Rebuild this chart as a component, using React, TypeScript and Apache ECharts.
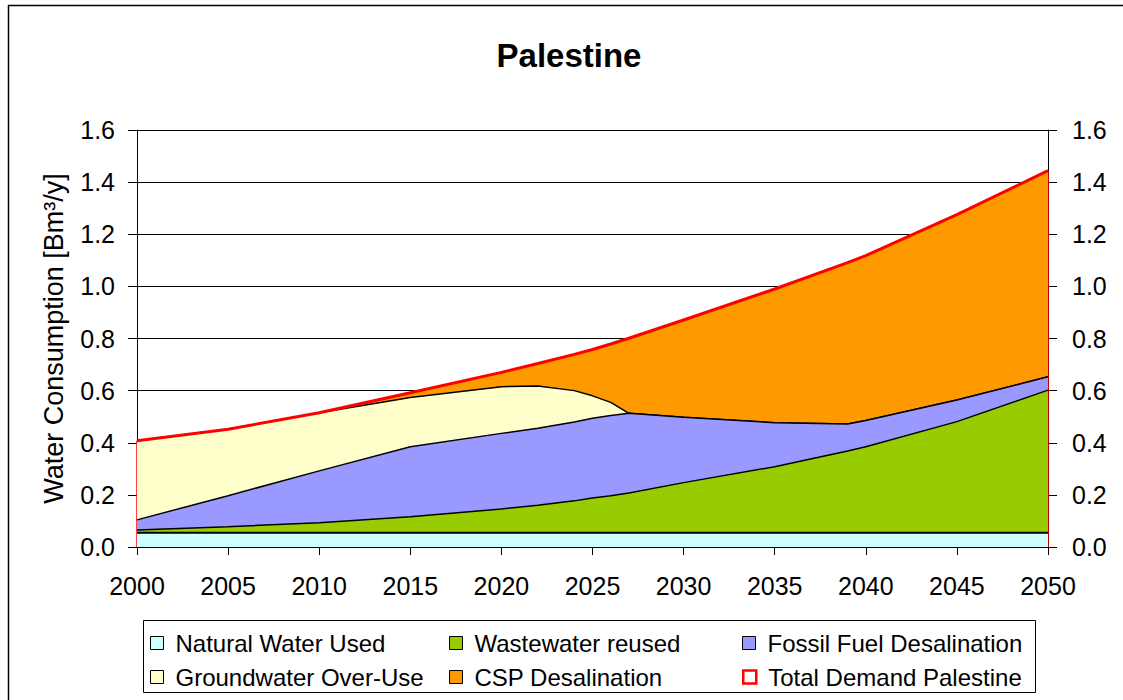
import React, { useEffect, useRef } from "react";
import * as echarts from "echarts";

// Sample years (x values)
const years = [2000, 2005, 2010, 2015, 2020, 2022, 2024, 2025, 2026, 2027, 2030, 2035, 2039, 2040, 2045, 2050];
// Stacked components [Bm³/y]
const naturalWater = [0.055, 0.055, 0.055, 0.055, 0.055, 0.055, 0.055, 0.055, 0.055, 0.055, 0.055, 0.055, 0.055, 0.055, 0.055, 0.055];
const wastewater = [0.010, 0.023, 0.038, 0.061, 0.091, 0.105, 0.122, 0.133, 0.142, 0.152, 0.192, 0.253, 0.313, 0.330, 0.426, 0.547];
const fossilDesal = [0.039, 0.119, 0.199, 0.269, 0.290, 0.296, 0.303, 0.306, 0.308, 0.306, 0.251, 0.169, 0.104, 0.100, 0.083, 0.051];
const groundwater = [0.304, 0.255, 0.223, 0.189, 0.179, 0.162, 0.120, 0.086, 0.050, 0, 0, 0, 0, 0, 0, 0];
const cspDesal = [0, 0, 0, 0.018, 0.055, 0.086, 0.139, 0.178, 0.224, 0.288, 0.373, 0.513, 0.619, 0.633, 0.711, 0.791];
const totalDemand = [0.408, 0.452, 0.515, 0.592, 0.670, 0.704, 0.739, 0.758, 0.779, 0.801, 0.871, 0.990, 1.091, 1.118, 1.275, 1.444];

const seriesNames = [
  "Natural Water Used",
  "Wastewater reused",
  "Fossil Fuel Desalination",
  "Groundwater Over-Use",
  "CSP Desalination",
  "Total Demand Palestine",
];
const seriesColors = ["#CCFFFF", "#99CC00", "#9999FF", "#FFFFCC", "#FF9900", "#FF0000"];

const FONT = '"Liberation Sans", Arial, sans-serif';

export default function App() {
  const ref = useRef<HTMLDivElement>(null);

  useEffect(() => {
    if (!ref.current) return;
    const chart = echarts.init(ref.current, null, { renderer: "svg" });

    const stacked = [naturalWater, wastewater, fossilDesal, groundwater, cspDesal];
    // cumulative tops (manual stacking; each area filled down to the axis, lower layers drawn above)
    const running = years.map(() => 0);
    const cumulative = stacked.map((arr) =>
      arr.map((v, j) => {
        running[j] += v;
        return +running[j].toFixed(4);
      })
    );
    const lineWidths = [2, 1.5, 1.5, 1.5, 1];
    const series: any[] = cumulative.map((arr, i) => ({
      name: seriesNames[i],
      type: "line",
      data: years.map((y, j) => [y, arr[j]]),
      showSymbol: false,
      symbol: "none",
      z: 10 - i,
      color: seriesColors[i],
      itemStyle: { color: seriesColors[i] },
      lineStyle: { color: "#000", width: lineWidths[i] },
      areaStyle: { color: seriesColors[i], opacity: 1, origin: "start" },
      emphasis: { disabled: true },
      silent: true,
    }));
    const last = years.length - 1;
    series.push({
      name: seriesNames[5],
      type: "line",
      data: years.map((y, j) => [y, totalDemand[j]]),
      showSymbol: false,
      symbol: "none",
      z: 20,
      color: seriesColors[5],
      itemStyle: { color: seriesColors[5] },
      lineStyle: { color: seriesColors[5], width: 3 },
      emphasis: { disabled: true },
      silent: true,
      markLine: {
        silent: true,
        symbol: ["none", "none"],
        label: { show: false },
        lineStyle: { color: seriesColors[5], width: 1.5, type: "solid" },
        emphasis: { disabled: true },
        data: [
          [{ coord: [years[0], 0] }, { coord: [years[0], totalDemand[0]] }],
          [{ coord: [years[last], 0] }, { coord: [years[last], totalDemand[last]] }],
        ],
      },
    });

    const legendPos = [
      [150, 631],
      [449, 631],
      [742, 631],
      [150, 665],
      [449, 665],
      [742, 665],
    ];
    const legends = seriesNames.map((name, i) => ({
      show: true,
      left: legendPos[i][0],
      top: legendPos[i][1],
      orient: "horizontal",
      padding: 0,
      itemWidth: 13,
      itemHeight: 13,
      selectedMode: false,
      textStyle: { fontFamily: FONT, fontSize: 24, color: "#000", padding: [0, 0, 0, 7] },
      data: [
        {
          name,
          icon: "rect",
          itemStyle:
            i === 5
              ? { color: "#FFFFFF", borderColor: "#FF0000", borderWidth: 2.5 }
              : { color: seriesColors[i], borderColor: "#000", borderWidth: 1 },
        },
      ],
    }));

    const yAxisCommon = {
      type: "value",
      min: 0,
      max: 1.6,
      interval: 0.2,
      axisLine: { show: true, lineStyle: { color: "#000", width: 1 } },
      axisTick: { show: true, length: 9, lineStyle: { color: "#000" } },
    };

    chart.setOption({
      animation: false,
      backgroundColor: "#fff",
      textStyle: { fontFamily: FONT },
      grid: { left: 137, right: 75, top: 130, bottom: 153, containLabel: false },
      legend: legends,
      xAxis: {
        type: "value",
        min: 2000,
        max: 2050,
        interval: 5,
        axisLine: { show: true, onZero: false, lineStyle: { color: "#000", width: 1 } },
        axisTick: { show: true, length: 8, lineStyle: { color: "#000" } },
        axisLabel: {
          fontFamily: FONT,
          fontSize: 25,
          color: "#000",
          margin: 26,
          formatter: (v: number) => String(v),
        },
        splitLine: { show: false },
      },
      yAxis: [
        {
          ...yAxisCommon,
          position: "left",
          name: "Water Consumption [Bm³/y]",
          nameLocation: "middle",
          nameGap: 70,
          nameTextStyle: { fontFamily: FONT, fontSize: 27, color: "#000" },
          axisLabel: {
            fontFamily: FONT,
            fontSize: 25,
            color: "#000",
            margin: 22,
            formatter: (v: number) => v.toFixed(1),
          },
          splitLine: { show: true, lineStyle: { color: "#000", width: 1 } },
        },
        {
          ...yAxisCommon,
          position: "right",
          axisLabel: {
            fontFamily: FONT,
            fontSize: 25,
            color: "#000",
            margin: 24,
            formatter: (v: number) => v.toFixed(1),
          },
          splitLine: { show: false },
        },
      ],
      graphic: [
        {
          type: "rect",
          silent: true,
          shape: { x: 8.5, y: 5.5, width: 1300, height: 900 },
          style: { fill: "none", stroke: "#000", lineWidth: 1.5 },
        },
        {
          type: "rect",
          silent: true,
          shape: { x: 143.5, y: 620.5, width: 892, height: 72 },
          style: { fill: "#fff", stroke: "#000", lineWidth: 1 },
          z: -1,
        },
        {
          type: "text",
          silent: true,
          x: 569,
          y: 55,
          style: {
            text: "Palestine",
            fill: "#000",
            font: `bold 33px ${FONT}`,
            textAlign: "center",
            textVerticalAlign: "middle",
          },
        },
      ],
      series,
    });

    return () => chart.dispose();
  }, []);

  return (
    <div
      ref={ref}
      style={{ position: "absolute", left: 0, top: 0, width: 1123, height: 700 }}
    />
  );
}
